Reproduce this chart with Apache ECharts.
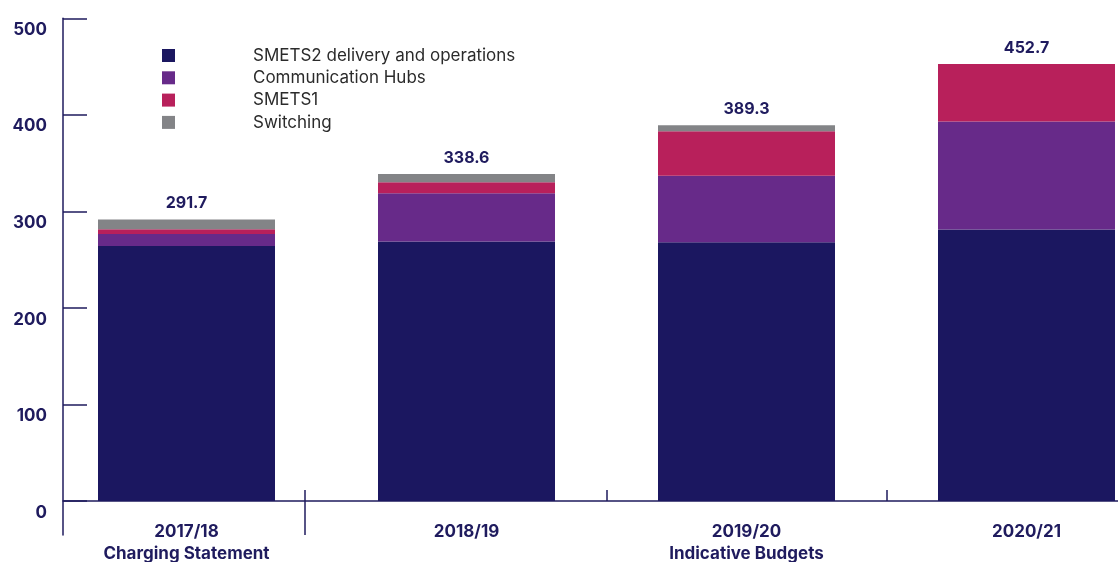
<!DOCTYPE html>
<html>
<head>
<meta charset="utf-8">
<script src="https://cdn.jsdelivr.net/npm/echarts@6/dist/echarts.min.js"></script>
<style>html,body{margin:0;padding:0;background:#fff;}#c{width:1118px;height:562px;}</style>
</head>
<body>
<div id="c"></div>
<script>
const categories = ['2017/18\nCharging Statement', '2018/19', '2019/20\nIndicative Budgets', '2020/21'];
const seriesNames = ['SMETS2 delivery and operations', 'Communication Hubs', 'SMETS1', 'Switching'];
const smets2 = [264.2, 268.9, 268.1, 281.3];
const commsHubs = [12.3, 49.8, 68.8, 111.9];
const smets1 = [5.1, 11.6, 46.2, 59.5];
const switching = [10.1, 8.3, 6.2, 0];
const totals = ['291.7', '338.6', '389.3', '452.7'];
const yTicks = [0, 100, 200, 300, 400, 500];

const NAVY = '#1f1b5e';
const colors = ['#1b1760', '#672a89', '#b8205b', '#838487'];
const font = 'Inter, "Open Sans", sans-serif';

const chart = echarts.init(document.getElementById('c'), null, {renderer: 'canvas'});
const values = [smets2, commsHubs, smets1, switching];
const series = values.map((d, i) => ({
  name: seriesNames[i],
  type: 'bar',
  stack: 'total',
  xAxisIndex: 0,
  yAxisIndex: 0,
  barWidth: 177,
  data: d,
  itemStyle: {color: colors[i]},
  label: i === 3 ? {
    show: true, position: 'top', distance: 8,
    formatter: p => totals[p.dataIndex],
    color: NAVY, fontFamily: font, fontWeight: 'bold', fontSize: 16
  } : {show: false},
  emphasis: {disabled: true},
  animation: false
}));

chart.setOption({
  animation: false,
  grid: [
    {left: 46.5, top: 18.3, width: 1120, height: 482.7, outerBoundsMode: 'none', containLabel: false},
    {left: 63, top: 18.3, width: 1055, height: 516.7, outerBoundsMode: 'none', containLabel: false}
  ],
  legend: {
    orient: 'vertical', left: 157, top: 42,
    itemWidth: 13, itemHeight: 13, itemGap: 5.3,
    icon: 'rect',
    data: seriesNames,
    textStyle: {fontFamily: font, fontSize: 17, color: '#2b2b2b', padding: [0, 0, 0, 73]},
    selectedMode: false
  },
  xAxis: [
    {
      type: 'category', gridIndex: 0, data: categories,
      axisLine: {show: false},
      axisTick: {show: true, inside: true, length: 11, interval: (idx) => idx === 2 || idx === 3,
                 lineStyle: {color: NAVY, width: 1.5}},
      axisLabel: {margin: 20, color: NAVY, fontFamily: font, fontWeight: 'bold', fontSize: 17, lineHeight: 22, interval: 0}
    },
    {
      type: 'value', gridIndex: 1, min: 0, max: 1,
      axisLine: {show: true, onZero: true, lineStyle: {color: NAVY, width: 1.5}},
      axisTick: {show: false}, axisLabel: {show: false}, splitLine: {show: false}
    }
  ],
  yAxis: [
    {type: 'value', gridIndex: 0, min: 0, max: 500, show: false, splitLine: {show: false}},
    {
      type: 'value', gridIndex: 1, min: -35.2, max: 500,
      axisLine: {show: true, onZero: false, lineStyle: {color: NAVY, width: 1.5}},
      axisTick: {show: true, inside: true, length: 24, customValues: yTicks, lineStyle: {color: NAVY, width: 1.5}},
      axisLabel: {customValues: yTicks, margin: 16, color: NAVY, fontFamily: font, fontWeight: 'bold', fontSize: 17,
                  verticalAlign: 'top', padding: [3, 0, 0, 0]},
      splitLine: {show: false}
    }
  ],
  graphic: [
    {type: 'line', shape: {x1: 305, y1: 490, x2: 305, y2: 535}, style: {stroke: NAVY, lineWidth: 1.5}, silent: true}
  ],
  series: series
});
</script>
</body>
</html>
